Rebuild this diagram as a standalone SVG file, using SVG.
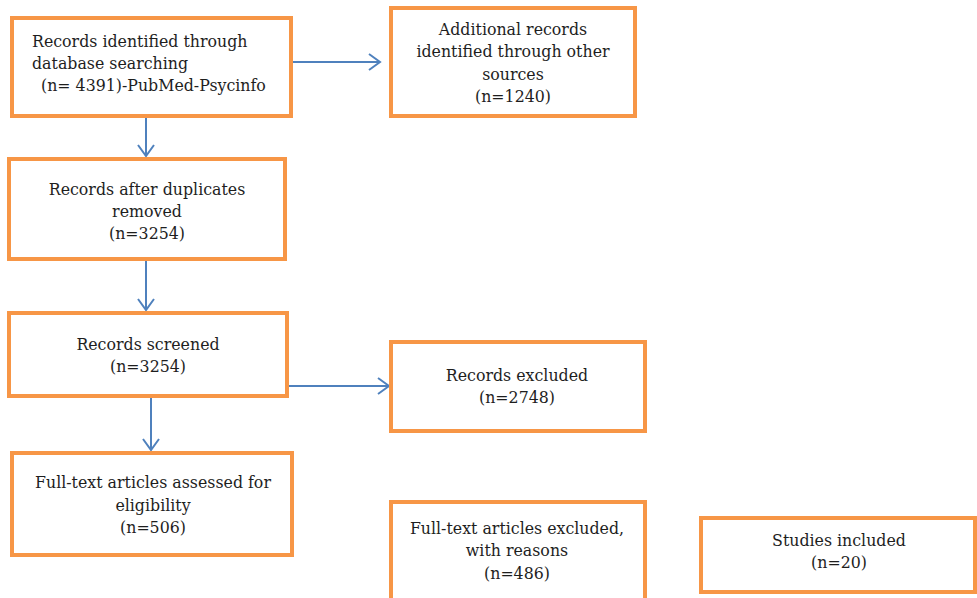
<svg xmlns="http://www.w3.org/2000/svg" width="977" height="598" viewBox="0 0 977 598">
<style>
.box{fill:#fff;stroke:#F79646;stroke-width:4}
.t{font-family:"DejaVu Serif","Liberation Serif",serif;font-size:15.8px;fill:#1e1e1e;text-anchor:middle}
.l{text-anchor:start}
.c{fill:none;stroke:#4F81BD;stroke-width:2}
</style>
<defs>
<marker id="ah" markerWidth="14" markerHeight="18" refX="12" refY="9" orient="auto" markerUnits="userSpaceOnUse">
<path d="M1,1 L12,9 L1,17" fill="none" stroke="#4F81BD" stroke-width="2"/>
</marker>
</defs>
<rect width="977" height="598" fill="#fff"/>
<g id="connectors">
<line class="c" x1="291" y1="62" x2="380" y2="62" marker-end="url(#ah)"/>
<line class="c" x1="146" y1="116" x2="146" y2="156" marker-end="url(#ah)"/>
<line class="c" x1="146" y1="260" x2="146" y2="310" marker-end="url(#ah)"/>
<line class="c" x1="287" y1="386" x2="389" y2="386" marker-end="url(#ah)"/>
<line class="c" x1="151" y1="397" x2="151" y2="450" marker-end="url(#ah)"/>
</g>
<g id="n1">
<rect class="box" x="12" y="18" width="279" height="98"/>
<text class="t l" x="32" y="47">Records identified through</text>
<text class="t l" x="32" y="69">database searching</text>
<text class="t l" x="41" y="91">(n= 4391)-PubMed-Psycinfo</text>
</g>
<g id="n2">
<rect class="box" x="391" y="8" width="244" height="108"/>
<text class="t" x="513" y="35">Additional records</text>
<text class="t" x="513" y="57">identified through other</text>
<text class="t" x="513" y="80">sources</text>
<text class="t" x="513" y="102">(n=1240)</text>
</g>
<g id="n3">
<rect class="box" x="9" y="159" width="276" height="100"/>
<text class="t" x="147" y="195">Records after duplicates</text>
<text class="t" x="147" y="217">removed</text>
<text class="t" x="147" y="239">(n=3254)</text>
</g>
<g id="n4">
<rect class="box" x="9" y="313" width="278" height="83"/>
<text class="t" x="148" y="350">Records screened</text>
<text class="t" x="148" y="372">(n=3254)</text>
</g>
<g id="n5">
<rect class="box" x="391" y="342" width="254" height="89"/>
<text class="t" x="517" y="381">Records excluded</text>
<text class="t" x="517" y="403">(n=2748)</text>
</g>
<g id="n6">
<rect class="box" x="12" y="453" width="280" height="102"/>
<text class="t" x="153" y="488">Full-text articles assessed for</text>
<text class="t" x="153" y="511">eligibility</text>
<text class="t" x="153" y="533">(n=506)</text>
</g>
<g id="n7">
<rect class="box" x="391" y="502" width="254" height="110"/>
<text class="t" x="517" y="534">Full-text articles excluded,</text>
<text class="t" x="517" y="556">with reasons</text>
<text class="t" x="517" y="579">(n=486)</text>
</g>
<g id="n8">
<rect class="box" x="701" y="518" width="274" height="74"/>
<text class="t" x="839" y="546">Studies included</text>
<text class="t" x="839" y="568">(n=20)</text>
</g>
</svg>
